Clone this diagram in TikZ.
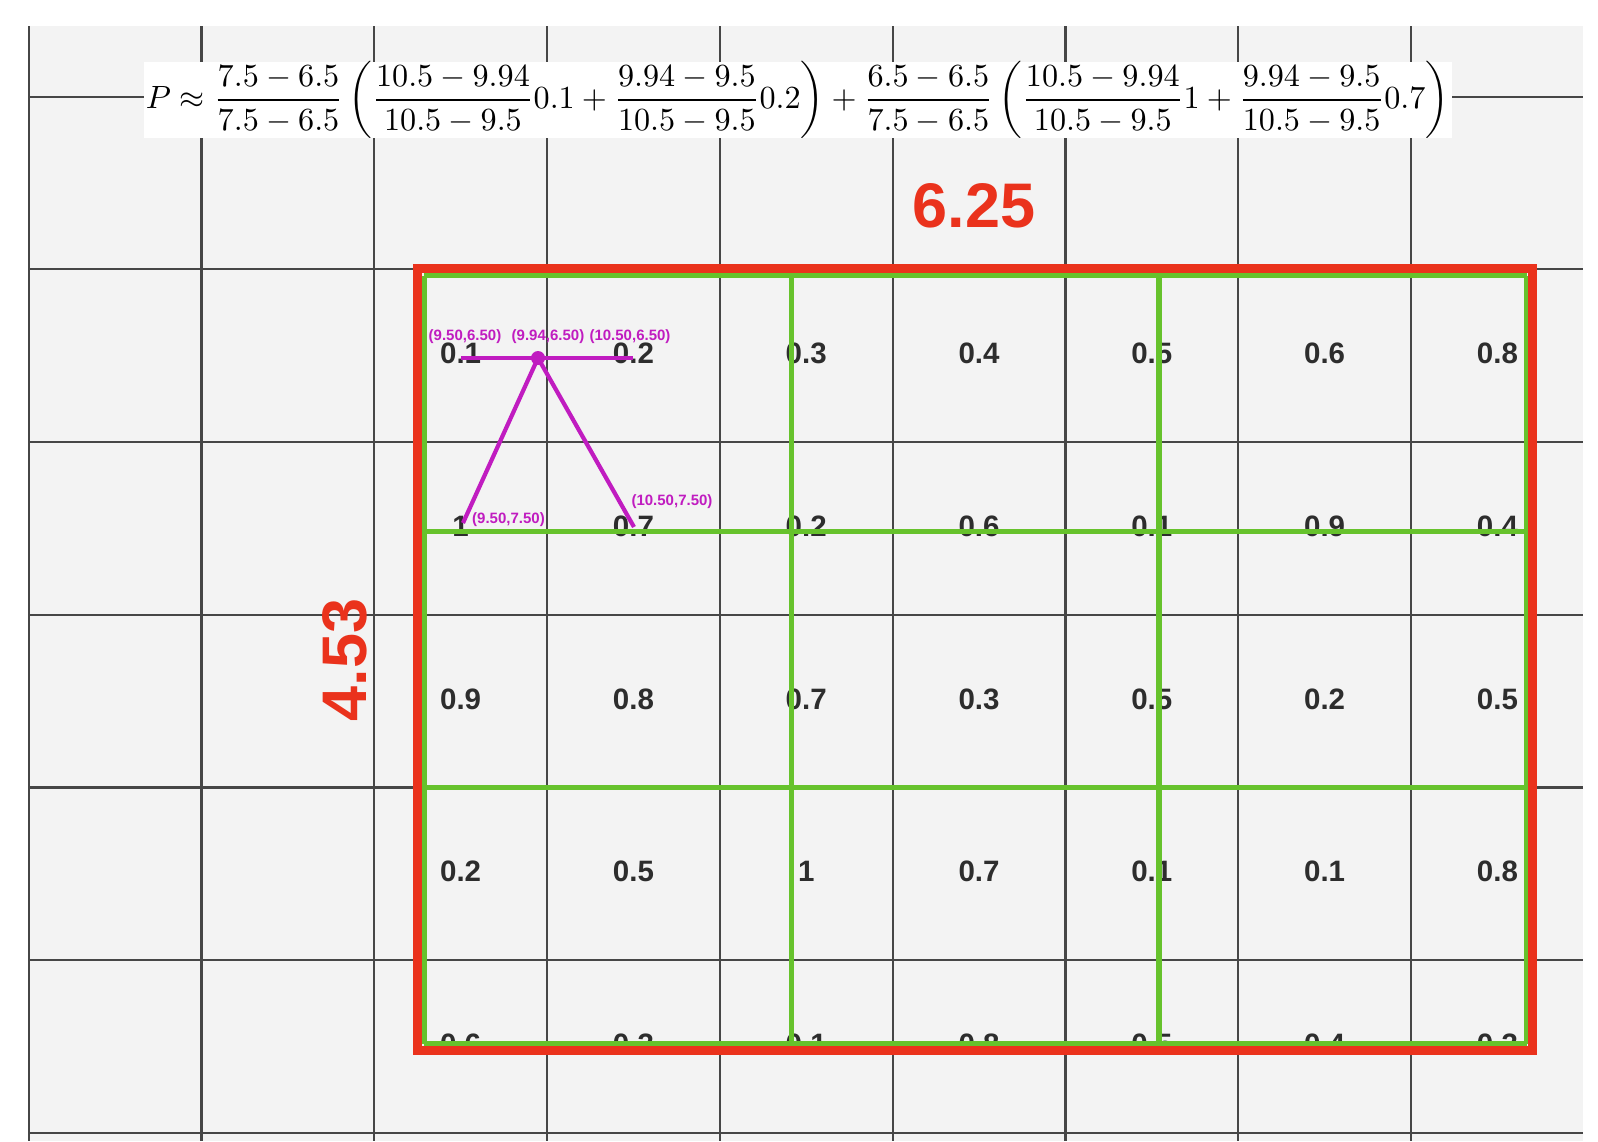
\documentclass[tikz,border=0pt]{standalone}
\usepackage{graphicx}
\usepackage{amsmath}
\usepackage{fontspec}
\setsansfont{Liberation Sans}
\definecolor{gridbg}{RGB}{243,243,243}
\definecolor{gridln}{RGB}{70,70,70}
\definecolor{redbox}{RGB}{234,50,28}
\definecolor{greenln}{RGB}{102,194,44}
\definecolor{magln}{RGB}{192,28,192}
\definecolor{valtxt}{RGB}{45,45,45}
\tikzset{
  gridline/.style={draw=gridln, line width=2.2pt},
  valnode/.style={font=\sffamily\bfseries\fontsize{29.5}{29.5}\selectfont, text=valtxt, inner sep=0pt},
  ptlabel/.style={font=\sffamily\bfseries\fontsize{15}{15}\selectfont, text=magln, inner sep=0pt},
  dimlabel/.style={font=\sffamily\bfseries\fontsize{63}{63}\selectfont, text=redbox, inner sep=0pt},
  greenline/.style={draw=greenln, line width=5.5pt},
  redframe/.style={draw=redbox, line width=9pt},
  magline/.style={draw=magln, line width=4.2pt},
}
\begin{document}
\begin{tikzpicture}[x=1pt,y=-1pt]
\useasboundingbox (0,0) rectangle (1598,1141);
\fill[white] (0,0) rectangle (1598,1141);
\fill[gridbg] (28,26) rectangle (1583,1141);
% grid
\begin{scope}
\clip (28,26) rectangle (1583,1141);
\foreach \k in {0,...,8} {
  \draw[gridline] ({28.6+172.8*\k},26) -- ({28.6+172.8*\k},1141);
}
\foreach \k in {0,...,6} {
  \draw[gridline] (28,{96.6+172.7*\k}) -- (1583,{96.6+172.7*\k});
}
\end{scope}
% formula
\fill[white] (143.5,62) rectangle (1452,138);
\node[inner sep=0pt] (formula) at (797.5,100) {\resizebox{1303pt}{!}{$\displaystyle P \approx \frac{7.5-6.5}{7.5-6.5}\left(\frac{10.5-9.94}{10.5-9.5}0.1+\frac{9.94-9.5}{10.5-9.5}0.2\right)+\frac{6.5-6.5}{7.5-6.5}\left(\frac{10.5-9.94}{10.5-9.5}1+\frac{9.94-9.5}{10.5-9.5}0.7\right)$}};
% values
\foreach \row [count=\r from 0] in {
  {0.1,0.2,0.3,0.4,0.5,0.6,0.8},
  {1,0.7,0.2,0.6,0.1,0.9,0.4},
  {0.9,0.8,0.7,0.3,0.5,0.2,0.5},
  {0.2,0.5,1,0.7,0.1,0.1,0.8},
  {0.6,0.3,0.1,0.8,0.5,0.4,0.3}} {
  \foreach \v [count=\c from 0] in \row {
    \node[valnode] (v\r\c) at ({460.6+172.8*\c},{353.5+172.7*\r}) {\v};
  }
}
% green grid
\foreach \gx in {424,791.5,1159,1526.5} {
  \draw[greenline] (\gx,275.5) -- (\gx,1044);
}
\foreach \gy in {275.5,531.5,787.7,1044} {
  \draw[greenline] (424,\gy) -- (1526.5,\gy);
}
% red frame
\draw[redframe] (417.5,268.5) rectangle (1532.5,1050.5);
% dimension labels
\node[dimlabel] (w) at (974,205.5) {6.25};
\node[dimlabel, rotate=90] (h) at (345,660) {4.53};
% magenta interpolation
\coordinate (q11) at (461,358);
\coordinate (q21) at (633,358);
\coordinate (pm) at (538,358);
\coordinate (q12) at (463,523);
\coordinate (q22) at (634,527);
\draw[magline] (q11) -- (q21);
\draw[magline] (q12) -- (pm) -- (q22);
\fill[magln] (pm) circle (7);
\node[ptlabel] (l11) at (465,337) {(9.50,6.50)};
\node[ptlabel] (lm) at (548,337) {(9.94,6.50)};
\node[ptlabel] (l21) at (630,337) {(10.50,6.50)};
\node[ptlabel, anchor=west] (l12) at (472,520) {(9.50,7.50)};
\node[ptlabel] (l22) at (672,502) {(10.50,7.50)};
\end{tikzpicture}
\end{document}
